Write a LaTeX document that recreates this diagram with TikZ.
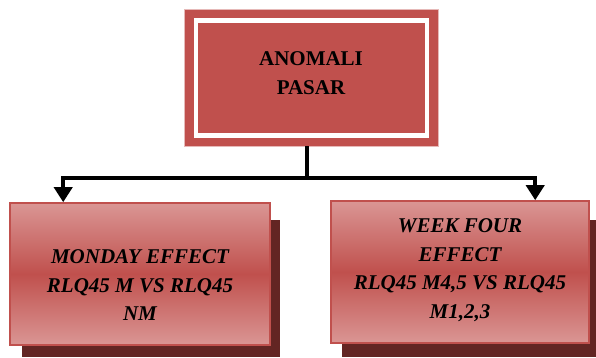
\documentclass[tikz,border=0pt]{standalone}
\usepackage{fontspec}
\setmainfont{Liberation Serif}
\usetikzlibrary{arrows.meta,calc}
\definecolor{redmain}{HTML}{C0504D}
\definecolor{redlight}{HTML}{DA9694}
\definecolor{redpale}{HTML}{E6B9B8}
\definecolor{redshadow}{HTML}{632523}
\tikzset{
  mainbox/.style={draw=redpale, line width=0.8pt, fill=redmain, inner sep=0pt,
    minimum width=254pt, minimum height=137pt},
  frameline/.style={draw=white, line width=4.3pt, inner sep=0pt,
    minimum width=231pt, minimum height=115pt},
  subbox/.style={draw=redmain, line width=1.6pt, top color=redlight, bottom color=redlight,
    middle color=redmain, shading=axis, inner sep=0pt, minimum height=142pt},
  shadowbox/.style={fill=redshadow, draw=none},
  toptext/.style={align=center, font=\fontsize{21}{29}\selectfont\bfseries, inner sep=0pt},
  subtext/.style={align=center, font=\fontsize{21}{28.5}\selectfont\bfseries\itshape, inner sep=0pt},
  conn/.style={draw=black, line width=4pt},
  tip/.style={-{Triangle[width=18pt,length=15pt]}}
}
\begin{document}
\begin{tikzpicture}[x=1pt,y=-1pt]
\useasboundingbox (0,0) rectangle (596,358);
% top box
\node[mainbox] (top) at (311,77.5) {};
\node[frameline] (topframe) at (311.3,77.9) {};
\node[toptext] (toplabel) at (311,73.5) {ANOMALI\\PASAR};
% shadows
\fill[shadowbox] (22,220) rectangle (280,357);
\fill[shadowbox] (342,220) rectangle (596,357);
% lower boxes
\node[subbox, minimum width=260pt] (left) at (140,274) {};
\node[subtext] (lefttext) at (140,285.5) {MONDAY EFFECT\\RLQ45 M VS RLQ45\\NM};
\node[subbox, minimum width=258pt] (right) at (460,272) {};
\node[subtext] (righttext) at (460,270) {WEEK FOUR\\EFFECT\\RLQ45 M4,5 VS RLQ45\\M1,2,3};
% connectors
\coordinate (j) at (307,178);
\draw[conn] ([xshift=-4]top.south) -- (j);
\draw[conn,tip] (j) -| ([xshift=54]left.north west);
\draw[conn,tip] (j) -| ([xshift=205]right.north west);
\end{tikzpicture}
\end{document}
